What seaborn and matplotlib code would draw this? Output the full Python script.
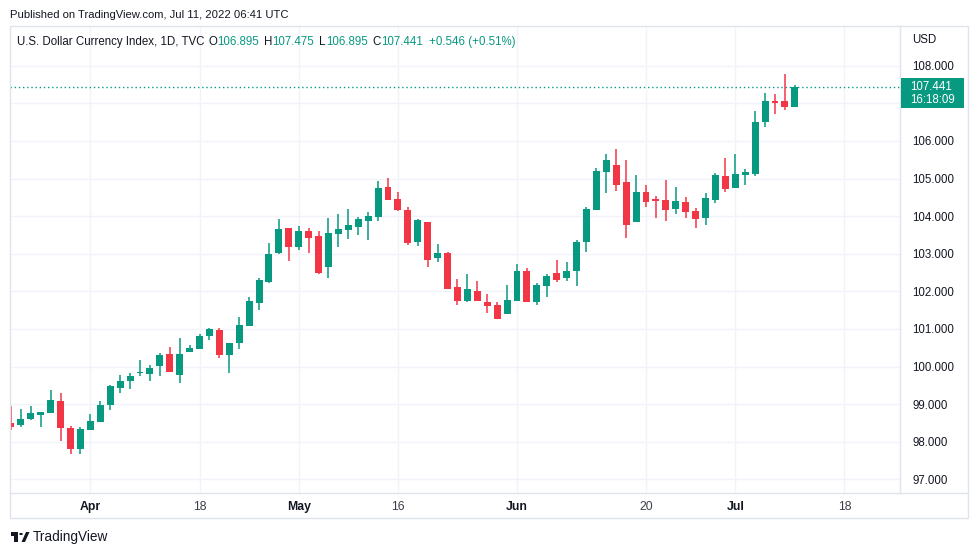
import numpy as np
import pandas as pd
import matplotlib
matplotlib.use("Agg")
import matplotlib.pyplot as plt
import seaborn as sns
from matplotlib.patches import Rectangle, Circle, Polygon
from matplotlib.lines import Line2D

# ---------------- data ----------------
start_date = "2022-03-22"
opens = [98.497, 98.444, 98.604, 98.710, 98.763, 99.082, 98.364, 97.805, 98.311, 98.524,
         98.976, 99.428, 99.614, 99.827, 99.800, 100.013, 100.332, 99.774, 100.385, 100.465,
         100.811, 100.971, 100.306, 100.625, 101.077, 101.688, 102.247, 103.018, 103.683, 103.178,
         103.603, 103.471, 102.646, 103.524, 103.630, 103.710, 103.869, 103.976, 104.774, 104.455,
         104.162, 103.311, 103.843, 102.885, 103.018, 102.114, 101.742, 102.008, 101.715, 101.635,
         101.396, 101.742, 102.540, 101.715, 102.141, 102.487, 102.354, 102.540, 103.311, 104.162,
         105.173, 105.359, 104.907, 103.843, 104.641, 104.455, 104.428, 104.189, 104.375, 104.135,
         103.949, 104.428, 105.066, 104.747, 105.093, 105.120, 106.503, 107.061, 107.061, 106.895]
highs = [98.949, 98.869, 98.949, 98.790, 99.375, 99.295, 98.417, 98.391, 98.737, 99.082,
         99.508, 99.774, 99.827, 100.173, 100.040, 100.359, 100.518, 100.758, 100.571, 100.864,
         101.024, 101.024, 100.625, 101.316, 101.848, 102.354, 103.284, 103.923, 103.683, 103.737,
         103.683, 103.603, 103.949, 104.056, 104.189, 103.976, 104.109, 104.933, 105.013, 104.641,
         104.242, 103.923, 103.843, 103.258, 103.045, 102.327, 102.460, 102.274, 101.928, 101.715,
         102.167, 102.726, 102.620, 102.220, 102.460, 102.832, 102.779, 103.364, 104.242, 105.279,
         105.652, 105.784, 105.492, 105.093, 104.827, 104.535, 104.960, 104.774, 104.508, 104.215,
         104.614, 105.146, 105.545, 105.652, 105.253, 106.795, 107.274, 107.247, 107.779, 107.475]
lows = [98.311, 98.391, 98.577, 98.391, 98.763, 98.018, 97.672, 97.672, 98.311, 98.524,
        98.843, 99.295, 99.401, 99.747, 99.614, 99.747, 99.854, 99.561, 100.385, 100.465,
        100.704, 100.226, 99.827, 100.465, 101.077, 101.502, 102.220, 102.992, 102.806, 103.098,
        103.018, 102.460, 102.354, 103.178, 103.391, 103.497, 103.364, 103.869, 104.428, 104.135,
        103.231, 103.204, 102.646, 102.779, 102.061, 101.635, 101.715, 101.742, 101.422, 101.263,
        101.396, 101.742, 101.715, 101.635, 101.848, 102.247, 102.274, 102.141, 103.045, 104.162,
        104.614, 104.668, 103.417, 103.843, 104.242, 103.949, 103.869, 104.056, 103.949, 103.683,
        103.763, 104.348, 104.641, 104.747, 104.827, 105.066, 106.370, 106.715, 106.822, 106.895]
closes = [98.391, 98.604, 98.763, 98.790, 99.109, 98.364, 97.805, 98.337, 98.550, 98.976,
          99.481, 99.614, 99.747, 99.854, 99.960, 100.306, 99.854, 100.332, 100.492, 100.811,
          100.997, 100.306, 100.625, 101.103, 101.742, 102.300, 102.992, 103.657, 103.178, 103.603,
          103.417, 102.487, 103.550, 103.657, 103.763, 103.923, 104.002, 104.747, 104.428, 104.162,
          103.284, 103.896, 102.832, 103.018, 102.061, 101.742, 102.061, 101.742, 101.608, 101.263,
          101.768, 102.540, 101.715, 102.167, 102.407, 102.300, 102.540, 103.311, 104.189, 105.199,
          105.492, 104.827, 103.763, 104.641, 104.375, 104.401, 104.162, 104.401, 104.109, 103.923,
          104.481, 105.093, 104.721, 105.120, 105.173, 106.503, 107.061, 107.007, 106.895, 107.441]

tick_dates = ["2022-04-01", "2022-04-18", "2022-05-02", "2022-05-16",
              "2022-06-01", "2022-06-20", "2022-07-01", "2022-07-18"]
tick_labels = ["Apr", "18", "May", "16", "Jun", "20", "Jul", "18"]
month_labels = {"Apr", "May", "Jun", "Jul"}
price_ticks = [97, 98, 99, 100, 101, 102, 103, 104, 105, 106, 107, 108]
hidden_price_labels = [107]

title_text = "U.S. Dollar Currency Index, 1D, TVC"
published_text = "Published on TradingView.com, Jul 11, 2022 06:41 UTC"
last_close_label = "107.441"
countdown_label = "16:18:09"
change_text = "+0.546 (+0.51%)"

# ---------------- style ----------------
GREEN = "#089981"
RED = "#f23645"
GRID = "#f0f3fa"
BORDER = "#e0e3eb"
TEXT = "#131722"
FS = 8.3

sns.set_theme(style="white")
plt.rcParams["font.family"] = ["Liberation Sans", "DejaVu Sans"]

W, H = 979, 555
fig = plt.figure(figsize=(W / 100, H / 100), dpi=100)
fig.patch.set_facecolor("white")

def fx(px):
    return px / W

def fy(py):
    return 1 - py / H

# plot pane: x 10..900, y 26..493
ax = fig.add_axes([fx(10), fy(493), fx(900) - fx(10), fy(26) - fy(493)])
ax.set_facecolor("white")

df = pd.DataFrame({"open": opens, "high": highs, "low": lows, "close": closes})
df["date"] = pd.bdate_range(start_date, periods=len(df))
df["idx"] = np.arange(len(df))
up = df["close"] >= df["open"]
colors = np.where(up, GREEN, RED)

body_bottom = df[["open", "close"]].min(axis=1)
body_height = (df["close"] - df["open"]).abs().clip(lower=0.03)

ax.vlines(df["idx"], df["low"], df["high"], colors=colors, linewidth=1.1, zorder=3)
ax.bar(df["idx"], body_height, bottom=body_bottom, width=0.7, color=colors,
       linewidth=0, zorder=4)

# x ticks: positions in business-day index
tick_pos = [len(pd.bdate_range(start_date, d)) - 1 for d in tick_dates]
ax.set_xlim(-0.1, 89.6)
ax.set_ylim(96.636, 109.056)

ax.set_xticks(tick_pos)
ax.set_xticklabels(tick_labels)
for lbl in ax.get_xticklabels():
    if lbl.get_text() in month_labels:
        lbl.set_fontweight("bold")
        lbl.set_color(TEXT)
    else:
        lbl.set_color("#3b3f4a")
    lbl.set_fontsize(8.8)

ax.yaxis.tick_right()
ax.set_yticks(price_ticks)
ax.set_yticklabels(["" if p in hidden_price_labels else f"{p:.3f}" for p in price_ticks])
for lbl in ax.get_yticklabels():
    lbl.set_fontsize(8.3)
    lbl.set_color(TEXT)
ax.tick_params(axis="y", length=0, pad=9)
ax.tick_params(axis="x", length=0, pad=6)

ax.grid(True, color=GRID, linewidth=1, zorder=0)
ax.set_axisbelow(True)
for side in ["left", "top"]:
    ax.spines[side].set_visible(False)
for side in ["right", "bottom"]:
    ax.spines[side].set_color(BORDER)
    ax.spines[side].set_linewidth(1)

# last price dotted line
ax.axhline(closes[-1], color=GREEN, linestyle=(0, (1, 2)), linewidth=1, zorder=2)

# outer border
fig.patches.append(Rectangle((fx(10), fy(518)), fx(968) - fx(10), fy(26) - fy(518),
                             transform=fig.transFigure, fill=False, edgecolor=BORDER,
                             linewidth=1))
fig.lines.append(Line2D([fx(900), fx(968)], [fy(493), fy(493)], transform=fig.transFigure,
                        color=BORDER, linewidth=1))

# price badge
fig.patches.append(Rectangle((fx(901), fy(108)), fx(964) - fx(901), fy(78) - fy(108),
                             transform=fig.transFigure, facecolor=GREEN, edgecolor="none",
                             zorder=5))
fig.text(fx(910), fy(87), last_close_label, color="white", fontsize=8.3,
         va="center", ha="left", zorder=6)
fig.text(fx(910), fy(100), countdown_label, color="white", fontsize=8.3,
         va="center", ha="left", zorder=6)

fig.text(fx(912), fy(40), "USD", color=TEXT, fontsize=8.3, va="center", ha="left")

# header texts
fig.text(fx(10), fy(15), published_text, color=TEXT, fontsize=8.1, va="center", ha="left")

renderer = fig.canvas.get_renderer()

def chain(x_px, parts, y_px):
    x = x_px
    for s, c, gap in parts:
        t = fig.text(fx(x), fy(y_px), s, color=c, fontsize=FS, va="center", ha="left")
        bb = t.get_window_extent(renderer=renderer)
        x = x + bb.width + gap

chain(17, [(title_text, TEXT, 4),
           ("O", TEXT, 0), (f"{opens[-1]:.3f}", GREEN, 5),
           ("H", TEXT, 0), (f"{highs[-1]:.3f}", GREEN, 5),
           ("L", TEXT, 0), (f"{lows[-1]:.3f}", GREEN, 5),
           ("C", TEXT, 0), (f"{closes[-1]:.3f}", GREEN, 6),
           (change_text, GREEN, 0)], 42)

# TradingView logo + text
logo = "#131722"
fig.patches.append(Rectangle((fx(11), fy(535.5)), fx(18) - fx(11), fy(532) - fy(535.5),
                             transform=fig.transFigure, facecolor=logo, edgecolor="none"))
fig.patches.append(Rectangle((fx(14.5), fy(542)), fx(18) - fx(14.5), fy(532) - fy(542),
                             transform=fig.transFigure, facecolor=logo, edgecolor="none"))
fig.patches.append(Circle((fx(21), fy(534)), 0.0019, transform=fig.transFigure,
                          facecolor=logo, edgecolor="none"))
fig.patches.append(Polygon([(fx(21.5), fy(542)), (fx(25), fy(542)), (fx(29.5), fy(532)),
                            (fx(26), fy(532))], closed=True, transform=fig.transFigure,
                           facecolor=logo, edgecolor="none"))
fig.text(fx(33), fy(537), "TradingView", color=TEXT, fontsize=9.8, va="center", ha="left")

fig.savefig("out.png", dpi=100, facecolor="white")
